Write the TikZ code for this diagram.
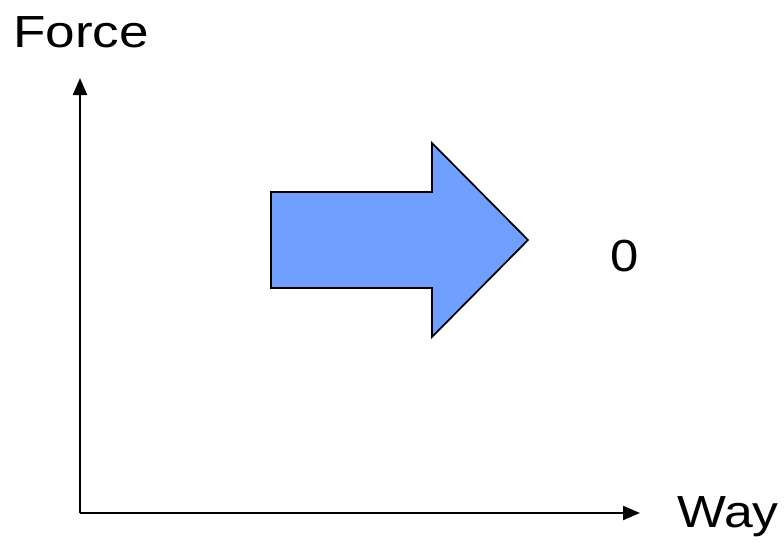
\documentclass[tikz,border=0pt]{standalone}
\usepackage{fontspec}
\setmainfont{Liberation Sans}
\usetikzlibrary{arrows.meta}
\definecolor{arrowblue}{HTML}{6F9FFF}
\tikzset{
  axis/.style={line width=2.3pt,-{Triangle[length=17pt,width=14pt]}},
  lbl/.style={inner sep=0pt,font=\fontsize{45}{54}\selectfont},
  bigarrow/.style={fill=arrowblue,draw=black,line width=1.7pt,line join=miter}
}
\begin{document}
\begin{tikzpicture}[x=1pt,y=-1pt]
\useasboundingbox (0,0) rectangle (784,541);
\coordinate (o) at (80,513);
\coordinate (ytop) at (80,78);
\coordinate (xend) at (640,513);
\draw[axis] (o) -- (ytop);
\draw[axis] (o) -- (xend);
\node[lbl,anchor=base west] (force) at (13,47) {\scalebox{1.18}[1]{Force}};
\node[lbl,anchor=base west] (way) at (677,527) {\scalebox{1.15}[1]{Way}};
\node[lbl,anchor=base] (zero) at (625,271) {\scalebox{1.13}[1]{0}};
\draw[bigarrow] (271,192) -- (432,192) -- (432,143) -- (528,240) -- (432,337) -- (432,288) -- (271,288) -- cycle;
\end{tikzpicture}
\end{document}
